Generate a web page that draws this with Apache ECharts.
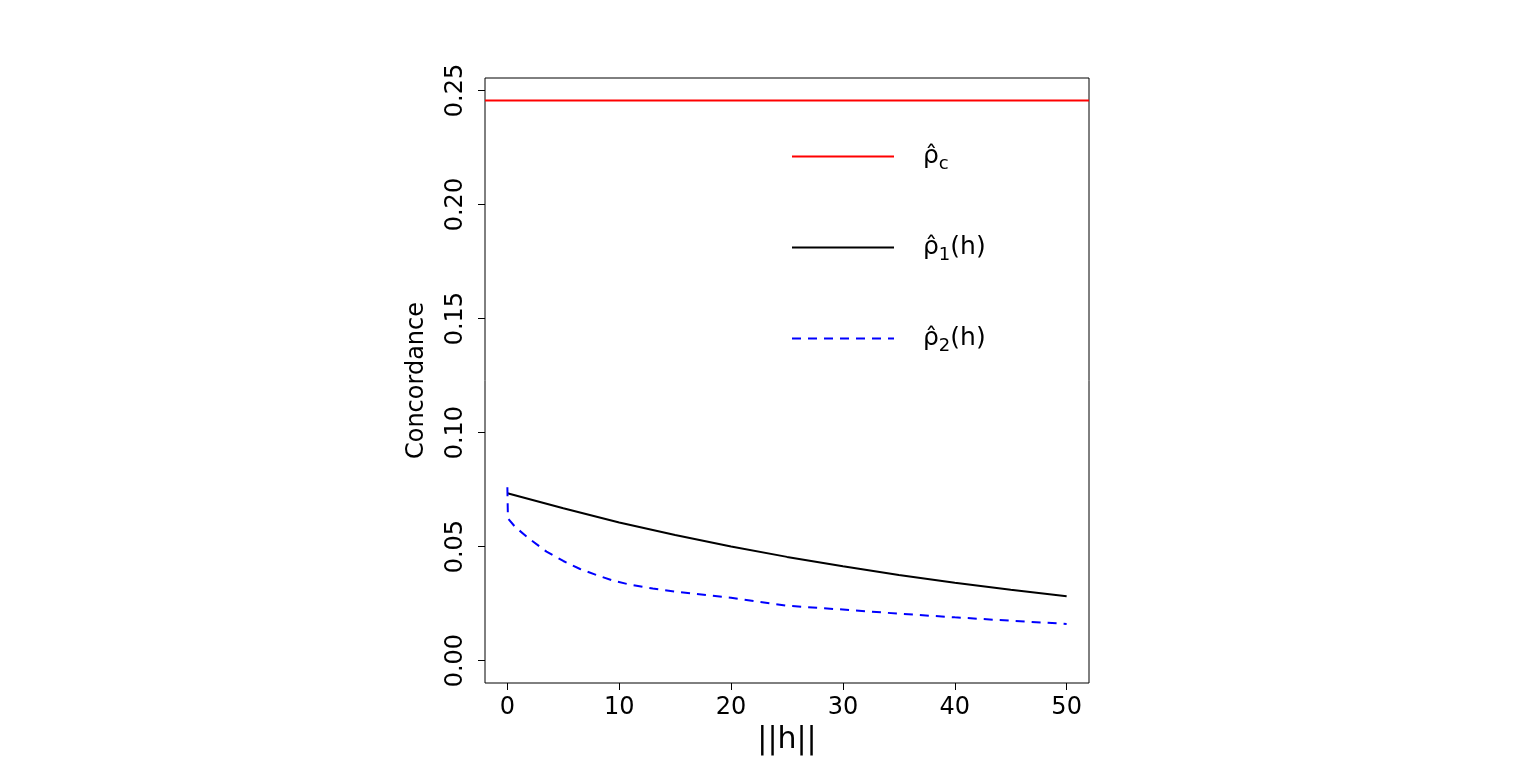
<!DOCTYPE html>
<html>
<head>
<meta charset="utf-8">
<script src="https://cdn.jsdelivr.net/npm/echarts@6/dist/echarts.min.js"></script>
<style>
html,body{margin:0;padding:0;background:#fff;}
#chart{width:1536px;height:781px;}
</style>
</head>
<body>
<div id="chart"></div>
<script>
// values
var rhoC = 0.2456;
var xLimits = [-2, 52];
var h1 = [0, 5, 10, 15, 20, 25, 30, 35, 40, 45, 50];
var rho1 = [0.0734, 0.0668, 0.0606, 0.0551, 0.0501, 0.0455, 0.0414, 0.0376, 0.0342, 0.0311, 0.0282];
var h2 = [0, 0.05, 0.7, 2, 3.5, 5, 6.5, 8, 9.5, 11, 13, 15, 20, 25, 30, 35, 40, 45, 50];
var rho2 = [0.0760, 0.0624, 0.0586, 0.0533, 0.0478, 0.0437, 0.0402, 0.0375, 0.0350, 0.0333, 0.0316, 0.0303, 0.0276, 0.0241, 0.0224, 0.0206, 0.0190, 0.0175, 0.0161];
var xTicks = [0, 10, 20, 30, 40, 50];
var yTicks = [0, 0.05, 0.10, 0.15, 0.20, 0.25];

var font = "DejaVu Sans";
var dom = document.getElementById("chart");
var myChart = echarts.init(dom);

function pairs(xs, ys) {
  return xs.map(function (x, i) { return [x, ys[i]]; });
}

var labels = {
  c: "{r|ρ̂}{s|c}",
  one: "{r|ρ̂}{s|1}{r|(h)}",
  two: "{r|ρ̂}{s|2}{r|(h)}"
};

var option = {
  animation: false,
  backgroundColor: "#fff",
  textStyle: { fontFamily: font },
  grid: {
    left: 485, right: 447, top: 78, bottom: 98,
    show: true, borderColor: "#000", borderWidth: 1
  },
  legend: {
    orient: "vertical",
    left: 786, top: 139,
    itemWidth: 102, itemHeight: 14, itemGap: 61.5,
    itemStyle: { opacity: 0 },
    data: ["c", "one", "two"],
    formatter: function (name) { return labels[name]; },
    textStyle: {
      color: "#000", fontFamily: font,
      rich: {
        r: { fontSize: 25, fontFamily: font, color: "#000", lineHeight: 30 },
        s: { fontSize: 18, fontFamily: font, color: "#000", verticalAlign: "bottom", lineHeight: 30, padding: [0, 0, -2, 0] }
      },
      padding: [0, 0, 0, 24]
    }
  },
  xAxis: {
    type: "value", min: xLimits[0], max: xLimits[1],
    name: "||h||", nameLocation: "middle", nameGap: 36,
    nameTextStyle: { fontSize: 30, color: "#000", fontFamily: font },
    splitLine: { show: false },
    axisLine: { show: false, onZero: false },
    axisTick: { show: true, inside: false, length: 7, customValues: xTicks, lineStyle: { color: "#000" } },
    axisLabel: { customValues: xTicks, fontSize: 24, color: "#000", margin: 13, fontFamily: font }
  },
  yAxis: {
    type: "value", min: -0.0098, max: 0.2555,
    name: "Concordance", nameLocation: "middle", nameGap: 56, nameRotate: 90,
    nameTextStyle: { fontSize: 24, color: "#000", fontFamily: font },
    splitLine: { show: false },
    axisLine: { show: false, onZero: false },
    axisTick: { show: true, inside: false, length: 7, customValues: yTicks, lineStyle: { color: "#000" } },
    axisLabel: {
      customValues: yTicks, rotate: 90, fontSize: 24, color: "#000", margin: 17, fontFamily: font,
      formatter: function (v) { return v.toFixed(2); }
    }
  },
  series: [
    {
      name: "c", type: "line", symbol: "none",
      data: pairs(xLimits, [rhoC, rhoC]),
      lineStyle: { color: "#ff0000", width: 2 },
      itemStyle: { color: "#ff0000" }
    },
    {
      name: "one", type: "line", data: pairs(h1, rho1), symbol: "none",
      lineStyle: { color: "#000", width: 2 },
      itemStyle: { color: "#000" }
    },
    {
      name: "two", type: "line", data: pairs(h2, rho2), symbol: "none",
      lineStyle: { color: "#0000ff", width: 2, type: [9, 7] },
      itemStyle: { color: "#0000ff" }
    }
  ]
};
if (option && typeof option === "object") {
  myChart.setOption(option);
}
</script>
</body>
</html>
